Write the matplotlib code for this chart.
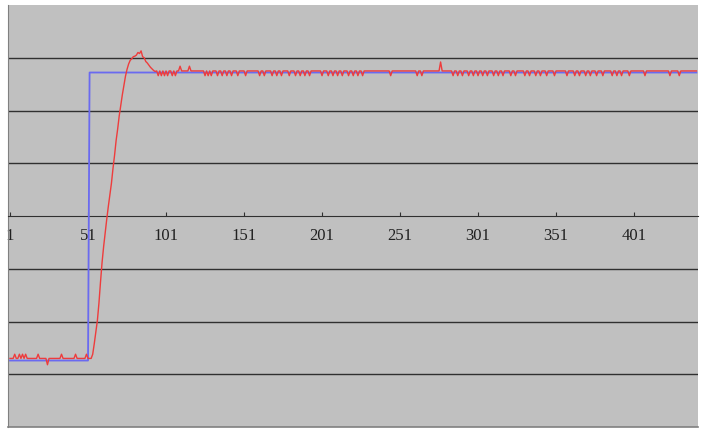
import numpy as np
import matplotlib
matplotlib.use('Agg')
import matplotlib.pyplot as plt

# --- data ---
n_muestras = 441
escalon_idx = 52          # first sample where the set point is high
consigna_baja = -2.74
consigna_alta = 2.72

salida_baja = -2.70
salida_alta = 2.75
# small upward spikes / dips before the step (sample index, value)
picos_bajos = [(4, -2.62), (7, -2.62), (9, -2.62), (11, -2.62), (19, -2.62),
               (25, -2.82), (34, -2.62), (43, -2.62), (50, -2.62)]
# transient of the response, samples 54..95
transitorio_idx = list(range(54, 96))
transitorio_val = [-2.62, -2.42, -2.20, -1.98, -1.65, -1.25, -0.88, -0.58,
                   -0.32, -0.06, 0.18, 0.40, 0.62, 0.90, 1.15, 1.43,
                   1.65, 1.90, 2.10, 2.30, 2.48, 2.65, 2.78, 2.88,
                   2.95, 2.98, 3.02, 3.03, 3.05, 3.10, 3.08, 3.13,
                   3.02, 3.00, 2.93, 2.90, 2.86, 2.82, 2.79, 2.76,
                   2.74, 2.75]
# dips of the response in steady state
valles = [96, 98, 100, 102, 105, 107, 126, 128, 130, 134, 137, 140, 143,
          147, 152, 161, 164, 169, 172, 175, 180, 184, 187, 190, 193, 201,
          205, 208, 211, 214, 218, 221, 224, 227, 245, 262, 265, 285, 288,
          291, 295, 298, 301, 304, 307, 311, 314, 317, 322, 325, 331, 334,
          338, 341, 345, 350, 358, 363, 366, 370, 373, 377, 381, 387, 390,
          393, 398, 408, 424, 430]
valor_valle = 2.66
picos_altos = [(110, 2.84), (116, 2.84), (277, 2.92)]

etiquetas_x = [1, 51, 101, 151, 201, 251, 301, 351, 401]

# --- build series ---
x = np.arange(1, n_muestras + 1)
consigna = np.where(x < escalon_idx, consigna_baja, consigna_alta)

salida = np.full(n_muestras, salida_alta)
salida[x <= 53] = salida_baja
for i, v in picos_bajos:
    salida[i - 1] = v
for i, v in zip(transitorio_idx, transitorio_val):
    salida[i - 1] = v
for i in valles:
    salida[i - 1] = valor_valle
for i, v in picos_altos:
    salida[i - 1] = v

# --- figure ---
fig = plt.figure(figsize=(7.04, 4.33), dpi=100)
ax = fig.add_axes([8/704, 6/433, 690/704, 422/433])
ax.set_facecolor('#c0c0c0')

ax.plot(x, consigna, color='#6a6af0', lw=1.3, zorder=3)
ax.plot(x, salida, color='#ee3c3c', lw=1.0, zorder=4)

ax.set_xlim(-0.3, 442)
ax.set_ylim(-4, 4)

# horizontal grid
ax.set_yticks([-3, -2, -1, 1, 2, 3])
ax.yaxis.grid(True, color='#303030', lw=1.0)
ax.tick_params(axis='y', left=False, labelleft=False)
ax.set_axisbelow(True)

# category axis through zero
ax.spines['bottom'].set_position(('data', 0))
ax.spines['bottom'].set_color('#303030')
ax.spines['top'].set_visible(False)
ax.spines['right'].set_visible(False)
ax.spines['left'].set_color('#808080')
ax.set_xticks(etiquetas_x)
ax.set_xticklabels([str(e) for e in etiquetas_x], family='Liberation Serif',
                   fontsize=12, color='#202020')
ax.tick_params(axis='x', direction='in', length=3, color='#303030', pad=9)

# plot area border (bottom)
ax.plot([0, 1], [0, 0], transform=ax.transAxes, color='#808080', lw=1.2,
        clip_on=False)

fig.savefig('out.png', dpi=100, facecolor='white')
